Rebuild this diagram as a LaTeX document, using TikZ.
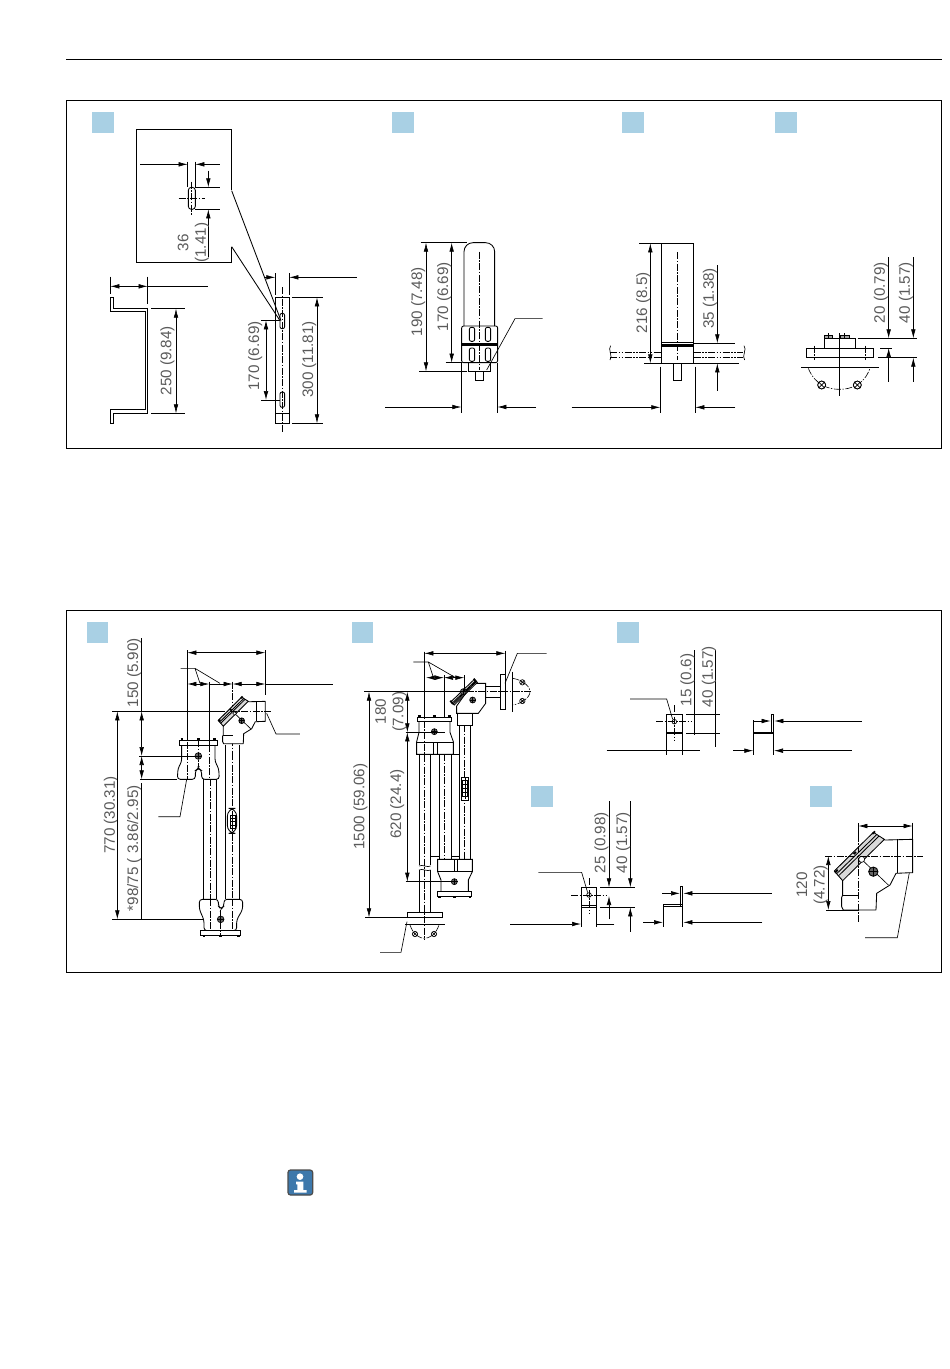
\documentclass[tikz,border=0pt]{standalone}
\usepackage{fontspec}
\setmainfont{Liberation Sans}
\usetikzlibrary{arrows.meta}
\definecolor{lblgrey}{HTML}{5A5A5A}
\definecolor{tagblue}{HTML}{A9D0E4}
\definecolor{iconblue}{HTML}{3D78AB}
\tikzset{
  zm/.style 2 args={xshift=#1pt,yshift=-#2pt,x=.33333pt,y=-.33333pt},
  ln/.style={line width=.65pt,black},
  obj/.style={line width=.85pt,black},
  bold/.style={line width=1.9pt,black},
  cl/.style={line width=.6pt,black,dash pattern=on 7pt off 1.5pt on 1.5pt off 1.5pt},
  cld/.style={line width=.6pt,black,dash pattern=on 7pt off 1.5pt on 1.5pt off 1.5pt on 1.5pt off 1.5pt},
  ar/.style={ln,-{Latex[length=9pt,width=4.6pt]}},
  dimar/.style={ln,{Latex[length=9pt,width=4.6pt]}-{Latex[length=9pt,width=4.6pt]}},
  lbl/.style={xshift=1.5pt,rotate=90,text=lblgrey,font=\fontsize{15.2}{17.5}\selectfont,inner sep=0pt,align=center},
  tag/.style={fill=tagblue,draw=none},
  panel/.style={line width=.8pt,black},
  pics/vhead/.style={code={
    \draw[obj,fill=white,line join=round] (-47,72)--(-47,118)--(-50,124)--(-50,152)--(-45,162)--(53,162)--(55,112)--(95,87)--(113,52)--(157,50)--(163,50)--(163,-50)--(80,-48)--(45,-68)--(-72,45)--cycle;
    \draw[obj] (-50,118)--(0,118);
    \draw[obj] (117,50)--(117,-50);
    \draw[obj,fill=black!15] (-72,45)--(45,-71)--(78,-50)--(-47,74)--cycle;
    \draw[obj] (-64,52)--(56,-65);
    \draw[obj] (-58,58)--(62,-60);
    \draw[bold] (-62,41)--(-70,50);
    \draw[bold] (-14,-6)--(-7,-12);
    \draw[bold] (42,-66)--(50,-74);
    \draw[ln,fill=white] (10,10) circle[radius=9];
    \draw[ln] (17,17)--(90,87);
    \draw[obj,fill=black!60] (45,47) circle[radius=14];
    \draw[ln] (31,47)--(59,47) (45,33)--(45,61);
  }}
}
\newcommand{\xcirc}[3]{\draw[ln] (#1,#2) circle[radius=#3] ++({-.71*#3},{-.71*#3})--++({1.42*#3},{1.42*#3}) ++(0,{-1.42*#3})--++({-1.42*#3},{1.42*#3});}
\newcommand{\mk}[3]{\draw[ln,fill=black!60] (#1,#2) circle[radius=#3];\draw[ln] ({#1-#3},#2)--({#1+#3},#2) (#1,{#2-#3})--(#1,{#2+#3});}
\begin{document}
\begin{tikzpicture}[x=1pt,y=-1pt]
\useasboundingbox (0,0) rectangle (950,1369);
\fill[white] (0,0) rectangle (950,1369);
% header rule and frames
\draw[ln] (66,59.5)--(942,59.5);
\draw[panel] (66.5,100.5) rectangle (941.5,448.5);
\draw[panel] (66.5,610.5) rectangle (941.5,972.5);
% tags
\fill[tag] (92,112) rectangle (114,133);
\fill[tag] (392,112) rectangle (414,133);
\fill[tag] (622,112) rectangle (644,133);
\fill[tag] (775,112) rectangle (797,133);
\fill[tag] (87,622) rectangle (108,643);
\fill[tag] (352,622) rectangle (373,643);
\fill[tag] (617,622) rectangle (639,643);
\fill[tag] (531,786) rectangle (553,807);
\fill[tag] (810,786) rectangle (832,807);

% ---------- panel A
\begin{scope}[zm={66}{100}]
\draw[obj] (497,270)--(497,88)--(211,88)--(211,487)--(497,487)--(497,440);
\draw[obj] (497,272)--(645,662);
\draw[obj] (497,440)--(642,662);
\draw[ar] (222,193)--(365,193);
\draw[ar] (462,193)--(388,193);
\draw[ln] (365,185)--(365,262) (388,185)--(388,262);
\draw[obj,rounded corners=3pt] (367,262) rectangle (388,328);
\draw[cl] (377,245)--(377,345) (338,295)--(418,295);
\draw[ln] (388,262)--(462,262) (388,328)--(462,328);
\draw[ar] (427,212)--(427,262);
\draw[ar] (427,470)--(427,328);
\node[lbl] (tA36) at (378,428) {36\\(1.41)};
% profile
\draw[obj,line join=miter] (133,592)--(142,592)--(142,626)--(245,626)--(245,940)--(142,940)--(142,970)--(133,970)--(133,928)--(237,928)--(237,635)--(133,635)--cycle;
\draw[ln] (133,530)--(133,582) (245,530)--(245,612);
\draw[dimar] (133,559)--(245,559);
\draw[ln] (245,559)--(425,559);
\draw[ln] (255,626)--(357,626) (255,940)--(357,940);
\draw[dimar] (330,626)--(330,940);
\node[lbl] (tA250) at (300,782) {250 (9.84)};
% plate
\draw[obj] (628,592) rectangle (670,970);
\draw[ln] (628,940)--(670,940);
\draw[obj,rounded corners=2pt] (642,640) rectangle (656,686);
\draw[obj,rounded corners=2pt] (642,876) rectangle (656,922);
\draw[cl] (649,562)--(649,995);
\draw[ln] (628,520)--(628,585) (670,520)--(670,585);
\draw[ar] (595,532)--(628,532);
\draw[ar] (873,532)--(670,532);
\draw[ln] (678,592)--(770,592) (678,970)--(770,970);
\draw[dimar] (753,592)--(753,970);
\node[lbl] (tA300) at (725,778) {300 (11.81)};
\draw[ln] (585,661)--(642,661) (585,900)--(642,900);
\draw[dimar] (600,661)--(600,900);
\node[lbl] (tA170) at (563,768) {170 (6.69)};
\end{scope}

% ---------- panels B and C
\begin{scope}[zm={380}{200}]
\draw[obj,rounded corners=9pt] (252,378)--(252,128)--(344,128)--(344,378);
\draw[obj,rounded corners=2pt] (245,378) rectangle (353,488);
\fill[black] (245,429) rectangle (353,437);
\foreach \x in {268,316}{
  \draw[obj,rounded corners=2pt] (\x,382) rectangle ++(16,42);
  \draw[obj,rounded corners=2pt] (\x,444) rectangle ++(16,40);
}
\draw[line width=1.3pt] (265,488) rectangle (332,514);
\draw[obj] (286,514) rectangle (310,542);
\draw[cl] (298,155)--(298,510);
\draw[ln] (488,356)--(405,356)--(320,510);
\draw[ln] (122,128)--(260,128) (197,488)--(245,488) (117,514)--(262,514);
\draw[dimar] (138,128)--(138,514);
\draw[dimar] (215,128)--(215,488);
\node[lbl] (tB190) at (110,305) {190 (7.48)};
\node[lbl] (tB170) at (188,290) {170 (6.69)};
\draw[ln] (244,490)--(244,640) (352,490)--(352,640);
\draw[ar] (15,621)--(244,621);
\draw[ar] (468,621)--(352,621);
% C
\draw[obj] (844,130) rectangle (941,490);
\draw[obj] (844,427)--(941,427);
\fill[black] (844,433) rectangle (941,440);
\draw[obj] (880,490) rectangle (904,542);
\draw[cl] (892,157)--(892,480);
\draw[cld] (690,457)--(844,457) (690,471)--(844,471) (941,457)--(1090,457) (941,471)--(1090,471);
\draw[ln] (692,437) .. controls (682,447) and (700,470) .. (690,480);
\draw[ln] (1092,437) .. controls (1102,447) and (1084,470) .. (1094,480);
\draw[ln] (777,130)--(844,130) (793,490)--(844,490);
\draw[dimar] (811,130)--(811,490);
\node[lbl] (tC216) at (785,308) {216 (8.5)};
\draw[ln] (941,430)--(1066,430) (941,490)--(1078,490);
\draw[ar] (1012,195)--(1012,430);
\draw[ar] (1012,572)--(1012,490);
\node[lbl] (tC35) at (985,295) {35 (1.38)};
\draw[ln] (841,500)--(841,640) (946,500)--(946,640);
\draw[ar] (575,622)--(841,622);
\draw[ar] (1066,622)--(946,622);
\end{scope}

% ---------- panel D
\begin{scope}[zm={760}{250}]
\draw[obj] (139,294) rectangle (340,323);
\draw[obj] (193,265) rectangle (287,294);
\draw[ln,fill=black!35] (194,255) rectangle (218,265);
\draw[ln,fill=black!35] (240,255) rectangle (268,265);
\draw[ln] (206,250)--(206,265) (253,250)--(253,265);
\draw[ln] (238,250)--(238,437);
\draw[cl] (163,287)--(163,330) (316,287)--(316,330);
\draw[ln] (123,351)--(357,351);
\draw[cl] (145,355) .. controls (165,405) and (205,418) .. (238,418) .. controls (272,418) and (312,405) .. (330,355);
\draw[ln,fill=white] (185,405) circle[radius=12];
\draw[ln,fill=white] (292,405) circle[radius=12];
\xcirc{185}{405}{12}
\xcirc{292}{405}{12}
\draw[ln] (293,265)--(470,265) (360,294)--(397,294) (355,323)--(470,323);
\draw[ar] (386,22)--(386,265);
\draw[ar] (386,395)--(386,294);
\draw[ar] (460,22)--(460,265);
\draw[ar] (460,395)--(460,323);
\node[lbl] (tD20) at (358,128) {20 (0.79)};
\node[lbl] (tD40) at (433,128) {40 (1.57)};
\end{scope}

% ---------- panel E
\begin{scope}[zm={90}{620}]
\node[lbl] (tE150) at (128,158) {150 (5.90)};
\node[lbl] (tE770) at (58,585) {770 (30.31)};
\node[lbl] (tE98) at (128,685) {*98/75 ( 3.86/2.95)};
% pipes
\draw[obj] (340,478)--(340,838) (380,478)--(380,838);
\draw[obj] (405,375)--(405,838) (447,375)--(447,838);
\draw[cl] (360,478)--(360,838);
\draw[cl] (428,185)--(428,400);
\draw[cl] (428,400)--(428,838);
% upper body
\draw[obj,fill=white,rounded corners=3pt] (275,375)--(275,425)--(264,445)--(262,478)--(316,478)--(316,452)--(325,444)--(335,452)--(335,478)--(388,478)--(386,445)--(375,425)--(375,375);
\draw[obj,fill=white] (268,362) rectangle (382,375);
\draw[bold] (272,358)--(280,358) (321,358)--(329,358) (370,358)--(378,358);
\draw[cl] (292,365)--(292,478) (358,375)--(358,478) (325,360)--(325,440);
\mk{325}{408}{10}
% lower body
\draw[obj,fill=white,rounded corners=3pt] (385,838)--(328,838)--(328,868)--(342,900)--(342,932)--(440,932)--(440,900)--(458,868)--(458,838)--(402,838)--(402,858)--(393,868)--(385,858)--cycle;
\draw[obj,fill=white] (332,932) rectangle (452,945);
\draw[bold] (338,949)--(346,949) (388,949)--(396,949) (441,949)--(449,949);
\draw[cl] (360,838)--(360,932) (428,838)--(428,932) (392,870)--(392,945);
\mk{392}{898}{10}
% sight gauge
\draw[obj,fill=white,rounded corners=8pt] (412,565) rectangle (440,640);
\draw[obj] (420,585) rectangle (437,625);
\draw[ln] (420,595)--(437,595) (420,605)--(437,605) (420,615)--(437,615) (428,572)--(428,633);
% head
\pic[scale=.6] at (428,274) {vhead};
% dimensions
\draw[ln] (66,274)--(385,274);
\draw[cl] (385,274)--(545,274);
\draw[ln] (66,898)--(340,898);
\draw[dimar] (82,274)--(82,898);
\draw[ln] (155,55)--(155,274);
\draw[dimar] (155,274)--(155,408);
\draw[dimar] (155,408)--(155,478);
\draw[ln] (155,490)--(155,898);
\draw[ln] (147,408)--(318,408) (150,478)--(262,478);
\draw[ln] (292,90)--(292,362) (526,90)--(526,225) (358,185)--(358,375);
\draw[dimar] (292,98)--(526,98);
\draw[dimar] (292,192)--(358,192);
\draw[ar] (358,192)--(428,192);
\draw[dimar] (428,192)--(526,192);
\draw[ln] (526,192)--(730,192);
\draw[ln] (272,145)--(315,145)--(330,190) (315,145)--(390,190);
\draw[ln] (530,280)--(558,342)--(630,342);
\draw[ln] (205,590)--(270,590)--(290,478);
\end{scope}

% ---------- panel F
\begin{scope}[zm={345}{620}]
% pipes
\draw[obj] (222,403)--(222,735) (257,403)--(257,735);
\draw[ln] (222,738) .. controls (232,732) and (247,744) .. (257,738);
\draw[ln] (222,750) .. controls (232,744) and (247,756) .. (257,750);
\draw[obj] (222,750)--(222,877) (257,750)--(257,877);
\draw[obj] (283,403)--(283,718) (318,403)--(318,718);
\draw[obj] (343,315)--(343,718) (377,315)--(377,718);
\draw[obj] (257,403)--(283,403) (318,403)--(343,403) (257,710)--(283,710) (318,710)--(343,710);
\draw[cl] (358,315)--(358,718) (297,403)--(297,718);
% upper body
\draw[obj,fill=white] (222,305)--(222,337)--(215,365)--(215,403)--(325,403)--(325,365)--(315,337)--(315,305);
\draw[obj] (215,368)--(325,368) (265,368)--(265,403) (278,368)--(278,403);
\draw[obj,fill=white] (218,292) rectangle (320,305);
\draw[bold] (220,289)--(228,289) (264,289)--(272,289) (310,289)--(318,289);
\mk{268}{335}{9}
% lower body
\draw[obj,fill=white] (278,718)--(382,718)--(382,755)--(370,780)--(370,815)--(288,815)--(288,780)--(278,755)--cycle;
\draw[obj] (278,755)--(382,755) (328,718)--(328,755) (337,718)--(337,755);
\draw[obj,fill=white] (278,815) rectangle (380,828);
\draw[bold] (279,832)--(287,832) (325,832)--(333,832) (371,832)--(379,832);
\mk{328}{785}{9}
% gauge
\draw[obj,fill=white] (349,472) rectangle (371,542);
\draw[ln] (353,482) rectangle (367,530) (353,494)--(367,494) (353,506)--(367,506) (353,518)--(367,518) (360,475)--(360,538);
% lower flange
\draw[obj] (187,877) rectangle (293,893);
\draw[ln] (180,913)--(300,913);
\draw[cl] (195,915) .. controls (205,945) and (225,955) .. (238,955) .. controls (252,955) and (272,945) .. (282,915);
\xcirc{210}{942}{8}
\xcirc{267}{942}{8}
% head
\draw[obj,fill=white] (337,280) rectangle (383,315);
\draw[obj,fill=white] (335,258)--(335,280)--(400,280)--(422,250)--(422,190)--(395,190)--(380,195)--cycle;
\draw[obj] (422,198)--(465,198) (422,232)--(465,232);
\draw[obj,fill=black!15] (318,245)--(388,178)--(397,187)--(328,255)--cycle;
\draw[obj] (322,249)--(392,182) (325,252)--(394,185);
\draw[bold] (316,242)--(324,252) (350,208)--(358,218) (386,176)--(394,186);
\draw[obj] (465,162) rectangle (482,268);
\draw[ln] (503,155)--(503,275);
\draw[cl] (503,175) .. controls (525,178) and (555,195) .. (555,215) .. controls (555,235) and (525,252) .. (503,255);
\xcirc{532}{187}{8}
\xcirc{532}{243}{8}
\mk{383}{240}{9}
\mk{355}{215}{9}
% centre lines
\draw[cl] (238,95)--(238,960);
\draw[ln] (58,215)--(330,215);
\draw[cl] (330,215)--(560,215);
% dimensions
\draw[ln] (60,892)--(187,892);
\draw[dimar] (72,215)--(72,892);
\draw[dimar] (187,215)--(187,337);
\draw[dimar] (187,337)--(187,785);
\draw[ln] (182,337)--(300,337) (182,785)--(340,785);
\draw[ln] (238,95)--(238,292) (481,92)--(481,165) (297,165)--(297,292) (358,165)--(358,215);
\draw[dimar] (238,100)--(481,100);
\draw[dimar] (243,173)--(297,173);
\draw[dimar] (297,173)--(358,173);
\draw[ln] (205,126)--(250,126)--(265,172) (250,126)--(330,172);
\draw[ln] (605,100)--(517,100)--(480,190);
\draw[ln] (105,997)--(168,997)--(186,905);
\node[lbl] (tF1500) at (42,560) {1500 (59.06)};
\node[lbl] (tF180) at (133,275) {180\\(7.09)};
\node[lbl] (tF620) at (152,552) {620 (24.4)};
\end{scope}

% ---------- panel G
\begin{scope}[zm={600}{640}]
\draw[obj] (199,222) rectangle (247,280);
\draw[bold] (199,279)--(247,279);
\draw[ln] (223,245) circle[radius=7];
\draw[cl] (168,245)--(272,245) (223,195)--(223,300);
\draw[ln] (90,177)--(200,177)--(218,238);
\draw[ln] (258,222)--(360,222) (258,280)--(360,280);
\draw[ln] (283,30)--(283,285) (347,30)--(347,320);
\draw[ln] (20,330)--(300,330);
\draw[ln] (199,280)--(199,345) (247,280)--(247,345);
\node[lbl] (tG15) at (258,120) {15 (0.6)};
\node[lbl] (tG40) at (322,110) {40 (1.57)};
\draw[obj] (514,222) rectangle (521,281);
\draw[bold] (460,279)--(521,279);
\draw[ar] (460,243)--(512,243);
\draw[ar] (785,243)--(523,243);
\draw[ln] (460,240)--(460,345) (520,282)--(520,345);
\draw[ar] (400,332)--(460,332);
\draw[ar] (755,332)--(522,332);
\end{scope}

% ---------- panel H
\begin{scope}[zm={505}{790}]
\draw[obj] (228,292) rectangle (275,352);
\draw[ln] (228,346)--(275,346);
\draw[ln] (252,315) circle[radius=7];
\draw[cl] (198,315)--(303,315) (252,265)--(252,370);
\draw[ln] (100,247)--(230,247)--(248,308);
\draw[ln] (285,292)--(390,292) (285,352)--(390,352);
\draw[ar] (312,33)--(312,292);
\draw[ar] (312,388)--(312,318);
\draw[ar] (376,33)--(376,292);
\draw[ar] (376,425)--(376,352);
\node[lbl] (tH25) at (285,158) {25 (0.98)};
\node[lbl] (tH40) at (350,158) {40 (1.57)};
\draw[ar] (15,402)--(228,402);
\draw[ln] (328,402)--(275,402);
\draw[ln] (228,355)--(228,412) (275,355)--(275,412);
\draw[obj] (527,290) rectangle (533,350);
\draw[obj] (474,342)--(533,342) (474,350)--(533,350) (474,342)--(474,350);
\draw[ar] (472,310)--(525,310);
\draw[ar] (800,310)--(535,310);
\draw[ln] (474,350)--(474,410) (533,350)--(533,410);
\draw[ar] (415,397)--(474,397);
\draw[ar] (772,397)--(535,397);
\end{scope}

% ---------- panel J head
\begin{scope}[zm={790}{790}]
\pic at (205,198) {vhead};
\draw[cl] (205,100)--(205,395) (105,198)--(400,198);
\draw[ln] (205,100)--(205,150) (368,98)--(368,150);
\draw[dimar] (205,108)--(368,108);
\draw[dimar] (115,198)--(115,360);
\draw[ln] (108,360)--(205,360);
\draw[ln] (358,248)--(322,443)--(225,443);
\node[lbl] (tJ120) at (62,285) {120\\(4.72)};
\end{scope}

% ---------- info icon
\begin{scope}[zm={270}{1150}]
\draw[line width=1.2pt,black!70,fill=iconblue,rounded corners=2.5pt] (54,60) rectangle (128,135);
\fill[white] (90,80) circle[radius=10];
\fill[white] (78,95) -- (100,95) -- (100,120) -- (110,120) -- (110,128) -- (72,128) -- (72,120) -- (82,120) -- (82,103) -- (78,103) -- cycle;
\end{scope}
\end{tikzpicture}
\end{document}
